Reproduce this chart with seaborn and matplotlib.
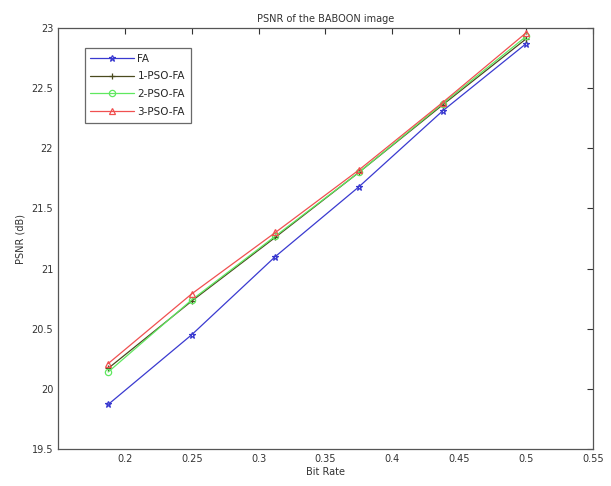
import matplotlib
matplotlib.use("Agg")
import matplotlib.pyplot as plt
import seaborn as sns
import pandas as pd

bit_rate = [0.1875, 0.25, 0.3125, 0.375, 0.4375, 0.5]
fa = [19.87, 20.45, 21.10, 21.68, 22.31, 22.87]
pso1 = [20.17, 20.73, 21.26, 21.80, 22.36, 22.91]
pso2 = [20.14, 20.74, 21.27, 21.80, 22.37, 22.93]
pso3 = [20.21, 20.79, 21.30, 21.82, 22.38, 22.96]
series_names = ["FA", "1-PSO-FA", "2-PSO-FA", "3-PSO-FA"]
x_ticks = [0.2, 0.25, 0.3, 0.35, 0.4, 0.45, 0.5, 0.55]
y_ticks = [19.5, 20, 20.5, 21, 21.5, 22, 22.5, 23]

sns.set_style("white")
plt.rcParams['font.family'] = ['DejaVu Sans']

series_values = [fa, pso1, pso2, pso3]
colors = ["#3a3ad0", "#4a4a1e", "#5fe85f", "#f05050"]
markers = ["*", "+", "o", "^"]

fig = plt.figure(figsize=(6.11, 4.86), dpi=100)
ax = fig.add_axes([58/611, 1-449/486, (593-58)/611, (449-28)/486])
for name, vals, c, m in zip(series_names, series_values, colors, markers):
    df = pd.DataFrame({"x": bit_rate, "y": vals})
    sns.lineplot(data=df, x="x", y="y", color=c, marker=m, ax=ax,
                 linewidth=0.9, markersize=4.5, markerfacecolor="none",
                 markeredgecolor=c, markeredgewidth=0.9, label=name)

ax.set_xlim(0.15, 0.55)
ax.set_ylim(19.5, 23)
ax.set_xticks(x_ticks)
ax.set_xticklabels([f"{t:g}" for t in x_ticks])
ax.set_yticks(y_ticks)
ax.set_yticklabels([f"{t:g}" for t in y_ticks])
ax.tick_params(direction="in", top=True, right=True, labelsize=7, length=4, width=0.8, colors="#333333")
for sp in ax.spines.values():
    sp.set_color("#555555")
    sp.set_linewidth(0.9)
ax.set_xlabel("Bit Rate", fontsize=7, color="#333333", labelpad=2)
ax.set_ylabel("PSNR (dB)", fontsize=7, color="#333333", labelpad=4)
ax.set_title("PSNR of the BABOON image", fontsize=7, color="#333333", pad=4)

leg = ax.legend(loc="upper left", bbox_to_anchor=(0.05, 0.953), fontsize=7.5,
                frameon=True, fancybox=False, edgecolor="#444444",
                handlelength=4.2, borderpad=0.55, labelspacing=0.75, handletextpad=0.3,
                borderaxespad=0)
leg.get_frame().set_linewidth(0.9)

fig.savefig("out.png", dpi=100)
